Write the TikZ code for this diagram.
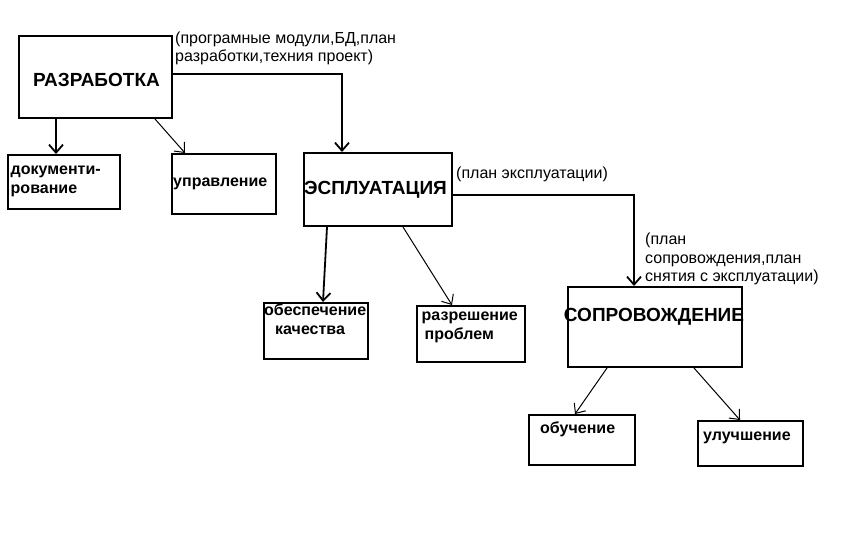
\documentclass[tikz,border=0pt]{standalone}
\usepackage{fontspec}
\setmainfont{Liberation Sans}
\usetikzlibrary{arrows.meta}

\begin{document}
\begin{tikzpicture}[x=1pt, y=-1pt,
    box/.style={draw, line width=2pt, inner sep=0pt, anchor=north west},
    bigtxt/.style={inner sep=0pt, anchor=base, font=\fontsize{19}{21}\selectfont\bfseries},
    boxtxt/.style={inner sep=0pt, anchor=base west, align=left, font=\fontsize{16}{18.4}\selectfont\bfseries},
    note/.style={inner sep=0pt, anchor=base west, align=left, font=\fontsize{16}{18.4}\selectfont},
    flow/.style={line width=1.8pt, -{Straight Barb[length=8pt,width=14pt]}},
    branch/.style={line width=1pt, -{Straight Barb[length=8pt,width=14pt]}}]
      \path[fill=white] (0,0) rectangle (851,539);
      \useasboundingbox (0,0) rectangle (851,539);

      % boxes
      \node[box, minimum width=153pt, minimum height=82pt] (razr) at (18,35) {};
      \node[box, minimum width=112pt, minimum height=54pt] (dok) at (7,154) {};
      \node[box, minimum width=104pt, minimum height=60pt] (upr) at (171,153) {};
      \node[box, minimum width=148pt, minimum height=73pt] (ekspl) at (303,152) {};
      \node[box, minimum width=104pt, minimum height=56pt] (kach) at (263,302) {};
      \node[box, minimum width=108pt, minimum height=56pt] (probl) at (416,305) {};
      \node[box, minimum width=174pt, minimum height=80pt] (sopr) at (567,286) {};
      \node[box, minimum width=106pt, minimum height=50pt] (obuch) at (528,414) {};
      \node[box, minimum width=105pt, minimum height=45pt] (uluch) at (697,420) {};

      \node[bigtxt] (razr-t) at (96.5,86) {РАЗРАБОТКА};
      \node[bigtxt] (ekspl-t) at (375.5,194) {ЭСПЛУАТАЦИЯ};
      \node[bigtxt] (sopr-t) at (654,321) {СОПРОВОЖДЕНИЕ};

      % multi-line texts sit on the baseline of their last line
      \node[boxtxt] (dok-t) at (10.5,193) {документи-\\рование};
      \node[boxtxt] (upr-t) at (173,186.5) {управление};
      \node[boxtxt] (kach-t) at (264,334.3) {обеспечение\\\hspace*{11pt}качества};
      \node[boxtxt] (probl-t) at (421.5,339) {разрешение\\\hspace*{3pt}проблем};
      \node[boxtxt] (obuch-t) at (540,433) {обучение};
      \node[boxtxt] (uluch-t) at (703,440.5) {улучшение};

      \node[note] (razr-n) at (175,61.7) {(програмные модули,БД,план\\разработки,техния проект)};
      \node[note] (ekspl-n) at (456,178.3) {(план эксплуатации)};
      \node[note] (sopr-n) at (645,281.7) {(план\\сопровождения,план\\снятия с эксплуатации)};

      % connectors
      \draw[flow] ([xshift=38pt]razr.south west) -- ([xshift=38pt]razr.south west |- dok.north);
      \draw[branch] ([xshift=-18pt]razr.south east) -- ([xshift=14pt]upr.north west);
      \draw[flow] ([yshift=3pt]razr.east) -| ([xshift=39pt]ekspl.north west);
      \draw[flow] ([yshift=-5.5pt]ekspl.east) -| ([xshift=67pt]sopr.north west);
      \draw[flow] ([xshift=24pt]ekspl.south west) -- ([xshift=60pt]kach.north west);
      \draw[branch] ([xshift=100pt]ekspl.south west) -- ([xshift=36pt]probl.north west);
      \draw[branch] ([xshift=40pt]sopr.south west) -- ([xshift=47pt]obuch.north west);
      \draw[branch] ([xshift=127pt]sopr.south west) -- ([xshift=43pt]uluch.north west);
    \end{tikzpicture}
\end{document}
